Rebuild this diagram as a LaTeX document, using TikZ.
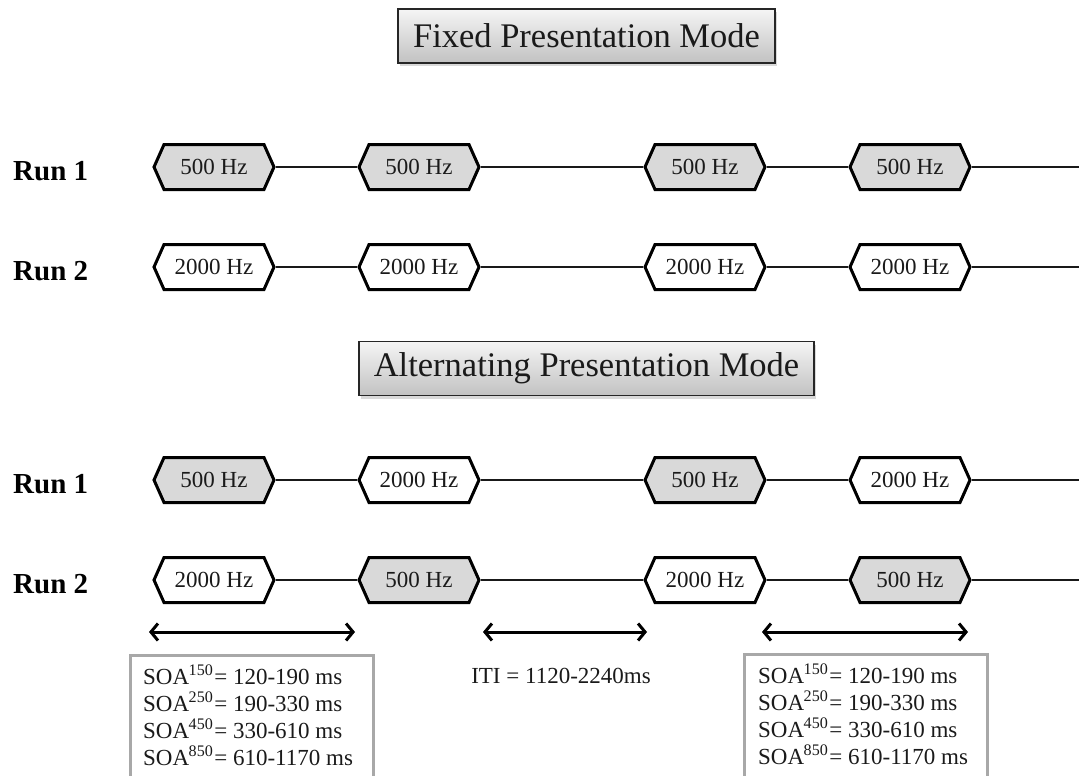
\documentclass[tikz,border=0pt]{standalone}
\usepackage{fontspec}
\setmainfont{Liberation Serif}
\usetikzlibrary{shapes.symbols,arrows.meta,shadows}
\definecolor{hexgray}{HTML}{D9D9D9}
\definecolor{boxgray}{HTML}{A8A8A8}
\definecolor{txt}{HTML}{1A1A1A}
\newcommand{\hexfont}{\fontsize{23}{27}\selectfont}
\newcommand{\soaline}[2]{SOA\textsuperscript{\kern-0.5pt#1}\kern1pt= #2}
\begin{document}
\begin{tikzpicture}[x=1pt,y=-1pt,
  hexa/.style={shape=signal, signal to=west and east, signal pointer angle=132,
    draw=black, line width=3pt, minimum width=120pt, minimum height=45pt,
    inner sep=0pt, font=\hexfont, text=txt},
  ghex/.style={hexa, fill=hexgray},
  whex/.style={hexa, fill=white},
  rowline/.style={line width=1.7pt, draw=black!90},
  titlebox/.style={draw=black!85, line width=1.6pt, top color=white!96!black,
    bottom color=black!24, minimum height=54pt, inner xsep=15pt,
    font=\fontsize{34.5}{40}\selectfont, text=txt,
    drop shadow={shadow xshift=2pt, shadow yshift=-3pt, opacity=0.3}},
  runlabel/.style={anchor=base west, font=\fontsize{29}{32}\selectfont\bfseries, inner sep=0pt},
  dimarrow/.style={line width=3pt,
    {Straight Barb[length=7pt,width=17pt]}-{Straight Barb[length=7pt,width=17pt]}},
  soabox/.style={draw=boxgray, line width=3pt},
  soatext/.style={anchor=north west, align=left, inner sep=0pt, font=\hexfont, text=txt}
]
\useasboundingbox (0,0) rectangle (1079,776);

% titles
\node[titlebox] (t1) at (586.5,36) {Fixed Presentation Mode};
\node[titlebox] (t2) at (586.5,368.5) {Alternating Presentation Mode};

% run labels
\node[runlabel] (lf1) at (13,180) {Run 1};
\node[runlabel] (lf2) at (13,280) {Run 2};
\node[runlabel] (la1) at (13,493) {Run 1};
\node[runlabel] (la2) at (13,593) {Run 2};

% fixed run 1
\node[ghex] (f1a) at (214,167) {500 Hz};
\node[ghex] (f1b) at (419,167) {500 Hz};
\node[ghex] (f1c) at (705,167) {500 Hz};
\node[ghex] (f1d) at (910,167) {500 Hz};
\coordinate (f1e) at (1079,167);
% fixed run 2
\node[whex] (f2a) at (214,267) {2000 Hz};
\node[whex] (f2b) at (419,267) {2000 Hz};
\node[whex] (f2c) at (705,267) {2000 Hz};
\node[whex] (f2d) at (910,267) {2000 Hz};
\coordinate (f2e) at (1079,267);
% alternating run 1
\node[ghex] (a1a) at (214,480) {500 Hz};
\node[whex] (a1b) at (419,480) {2000 Hz};
\node[ghex] (a1c) at (705,480) {500 Hz};
\node[whex] (a1d) at (910,480) {2000 Hz};
\coordinate (a1e) at (1079,480);
% alternating run 2
\node[whex] (a2a) at (214,580) {2000 Hz};
\node[ghex] (a2b) at (419,580) {500 Hz};
\node[whex] (a2c) at (705,580) {2000 Hz};
\node[ghex] (a2d) at (910,580) {500 Hz};
\coordinate (a2e) at (1079,580);

\foreach \r in {f1,f2,a1,a2}{
  \draw[rowline] (\r a.east) -- (\r b.west);
  \draw[rowline] (\r b.east) -- (\r c.west);
  \draw[rowline] (\r c.east) -- (\r d.west);
  \draw[rowline] (\r d.east) -- (\r e);
}

% dimension arrows
\coordinate (d1l) at (149,632); \coordinate (d1r) at (355,632);
\coordinate (d2l) at (483,632); \coordinate (d2r) at (647,632);
\coordinate (d3l) at (762,632); \coordinate (d3r) at (968,632);
\draw[dimarrow] (d1l) -- (d1r);
\draw[dimarrow] (d2l) -- (d2r);
\draw[dimarrow] (d3l) -- (d3r);

% ITI
\node[font=\hexfont, text=txt, inner sep=0pt] (iti) at (561,676) {ITI = 1120-2240ms};

% SOA boxes
\draw[soabox] (130,790) -- (130,655) -- (373,655) -- (373,790);
\draw[soabox] (744,790) -- (744,654) -- (987,654) -- (987,790);
\node[soatext] (soa1) at (143,665) {\soaline{150}{120-190 ms}\\\soaline{250}{190-330 ms}\\\soaline{450}{330-610 ms}\\\soaline{850}{610-1170 ms}};
\node[soatext] (soa2) at (758,664) {\soaline{150}{120-190 ms}\\\soaline{250}{190-330 ms}\\\soaline{450}{330-610 ms}\\\soaline{850}{610-1170 ms}};
\end{tikzpicture}
\end{document}
